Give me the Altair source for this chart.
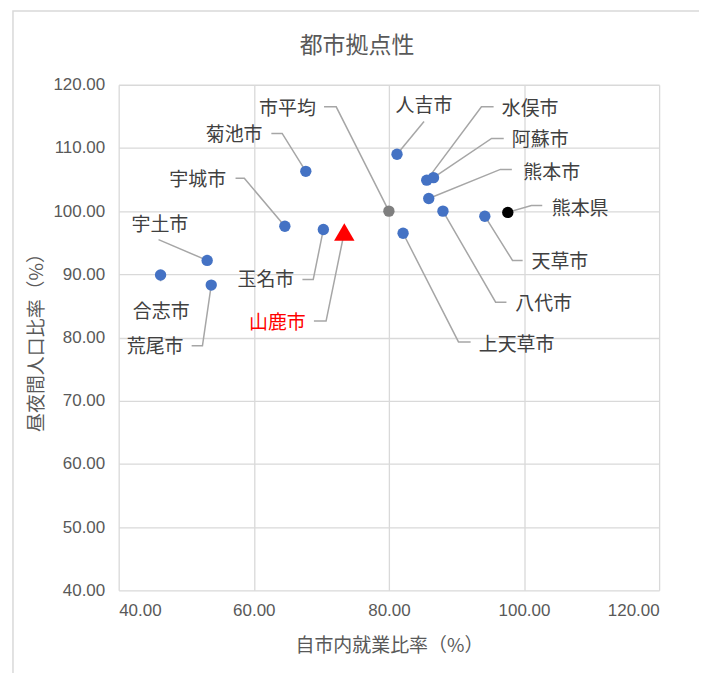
import altair as alt
import pandas as pd

# ---- data ----
names = ["合志市", "宇土市", "荒尾市", "宇城市", "菊池市", "玉名市", "山鹿市", "市平均",
         "人吉市", "上天草市", "水俣市", "阿蘇市", "熊本市", "八代市", "天草市", "熊本県"]
kinds = ["city", "city", "city", "city", "city", "city", "yamaga", "avg",
         "city", "city", "city", "city", "city", "city", "city", "pref"]
x_vals = [46.2, 53.1, 53.7, 64.6, 67.7, 70.3, 73.4, 80.0,
          81.2, 82.1, 85.6, 86.6, 85.9, 88.0, 94.2, 97.6]
y_vals = [89.9, 92.2, 88.3, 97.6, 106.3, 97.1, 96.7, 100.0,
          109.0, 96.5, 104.9, 105.3, 102.0, 100.0, 99.2, 99.8]

# label anchor positions (data units) and alignment
label_x = [46.3, 46.1, 49.6, 55.9, 61.3, 66.0, 67.7, 69.2,
           85.2, 93.3, 96.7, 98.2, 99.9, 98.7, 101.1, 104.1]
label_y = [84.0, 97.8, 78.5, 104.9, 112.1, 89.1, 82.3, 116.2,
           116.7, 78.8, 116.1, 111.2, 106.1, 85.3, 91.9, 100.4]
label_align = ["center", "center", "right", "right", "right", "right", "right", "right",
               "center", "left", "left", "left", "left", "left", "left", "left"]

# leader lines: start and elbow (data units); they end at the point
lead_x0 = [46.2, 45.9, 50.8, 57.3, 62.6, 67.2, 68.9, 70.4,
           85.2, 92.1, 95.5, 97.0, 98.2, 97.4, 99.8, 102.7]
lead_y0 = [88.9, 95.5, 78.7, 105.2, 112.3, 89.2, 82.6, 116.5,
           114.2, 79.3, 116.5, 111.5, 106.6, 85.6, 92.2, 100.9]
lead_x1 = [46.2, 45.9, 52.4, 58.6, 64.2, 68.8, 70.7, 72.2,
           85.2, 90.3, 93.7, 95.2, 96.5, 95.8, 98.3, 101.1]
lead_y1 = [88.9, 95.5, 78.7, 105.2, 112.3, 89.2, 82.6, 116.5,
           114.2, 79.3, 116.5, 111.5, 106.6, 85.6, 92.2, 100.9]

x_ticks = [40, 60, 80, 100, 120]
y_ticks = [40, 50, 60, 70, 80, 90, 100, 110, 120]
chart_title = "都市拠点性"

pts = pd.DataFrame({"name": names, "kind": kinds, "x": x_vals, "y": y_vals})
labels = pd.DataFrame({"name": names, "lx": label_x, "ly": label_y,
                       "align": label_align,
                       "red": [n == "山鹿市" for n in names]})
rows = []
for i, n in enumerate(names):
    rows.append({"name": n, "o": 0, "x": lead_x0[i], "y": lead_y0[i]})
    rows.append({"name": n, "o": 1, "x": lead_x1[i], "y": lead_y1[i]})
    rows.append({"name": n, "o": 2, "x": x_vals[i], "y": y_vals[i]})
leaders = pd.DataFrame(rows)

FONT = "Noto Sans CJK JP"
NUMFONT = "Liberation Sans"
GREY = "#595959"

xs = alt.Scale(domain=[40, 120], nice=False, zero=False)
ys = alt.Scale(domain=[40, 120], nice=False, zero=False)

x_axis = alt.Axis(values=x_ticks, format=".2f", title="自市内就業比率（%）",
                  labelPadding=12, titlePadding=18)
y_axis = alt.Axis(values=y_ticks, format=".2f", title="昼夜間人口比率（%）",
                  labelPadding=14, titlePadding=6)

frame = alt.Chart(pd.DataFrame({"a": [0]})).mark_rect(
    fill=None, stroke="#d9d9d9", strokeWidth=1.5, clip=False
).encode(x=alt.value(-106), x2=alt.value(583), y=alt.value(-74), y2=alt.value(640))

title = alt.Chart(pd.DataFrame({"t": [chart_title]})).mark_text(
    font=FONT, fontSize=23, color=GREY, align="center", baseline="middle"
).encode(x=alt.value(239), y=alt.value(-39), text="t:N")

lines = alt.Chart(leaders).mark_line(color="#a6a6a6", strokeWidth=1.5).encode(
    x=alt.X("x:Q", scale=xs, axis=x_axis),
    y=alt.Y("y:Q", scale=ys, axis=y_axis),
    detail="name:N",
    order="o:O",
)

points = alt.Chart(pts).mark_point(filled=True, opacity=1, strokeWidth=0).encode(
    x=alt.X("x:Q", scale=xs),
    y=alt.Y("y:Q", scale=ys),
    color=alt.Color("kind:N", legend=None,
                    scale=alt.Scale(domain=["city", "avg", "pref", "yamaga"],
                                    range=["#4472C4", "#7f7f7f", "#000000", "#ff0000"])),
    shape=alt.Shape("kind:N", legend=None,
                    scale=alt.Scale(domain=["city", "avg", "pref", "yamaga"],
                                    range=["circle", "circle", "circle", "triangle-up"])),
    size=alt.condition("datum.kind == 'yamaga'", alt.value(420), alt.value(130)),
)

def text_layer(align):
    d = labels[labels["align"] == align]
    return alt.Chart(d).mark_text(align=align, baseline="middle", font=FONT,
                                  fontSize=19).encode(
        x=alt.X("lx:Q", scale=xs),
        y=alt.Y("ly:Q", scale=ys),
        text="name:N",
        color=alt.condition("datum.red", alt.value("#ff0000"), alt.value("#404040")),
    )

chart = alt.layer(
    frame, title, lines, points, text_layer("left"), text_layer("right"), text_layer("center")
).properties(
    width=542, height=507,
    autosize=alt.AutoSizeParams(type="none"),
    padding={"left": 111, "top": 76, "right": 40, "bottom": 90},
).configure_view(stroke=None).configure_axis(
    grid=True, gridColor="#d9d9d9", gridWidth=1.3, domain=False, ticks=False,
    labelFont=NUMFONT, labelFontSize=17, labelColor=GREY,
    titleFont=FONT, titleFontSize=19, titleFontWeight="normal", titleColor=GREY,
)

chart.save("out.html", embed_options={"renderer": "svg", "actions": False})
